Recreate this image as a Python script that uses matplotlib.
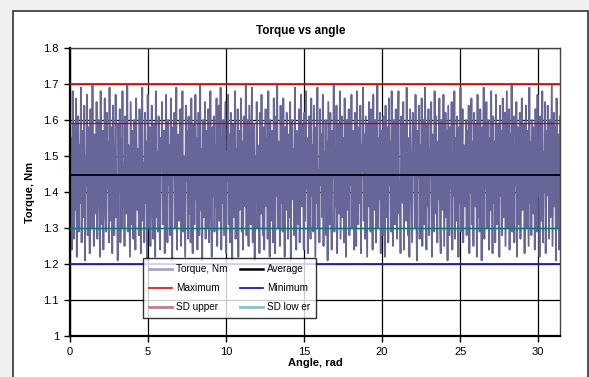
import numpy as np
import matplotlib.pyplot as plt
from matplotlib.patches import Rectangle
from matplotlib.lines import Line2D

plt.rcParams['font.family'] = ['Liberation Sans', 'DejaVu Sans']

# torque samples, Nm (approx.)
torque = [
    1.62, 1.31, 1.55, 1.24, 1.68, 1.40, 1.27, 1.59, 1.35, 1.66, 1.22, 1.48, 1.61, 1.29, 1.53, 1.37, 1.69, 1.26, 1.44, 1.57,
    1.33, 1.64, 1.21, 1.50, 1.42, 1.67, 1.28, 1.58, 1.36, 1.23, 1.63, 1.45, 1.30, 1.70, 1.39, 1.25, 1.56, 1.47, 1.34, 1.65,
    1.27, 1.52, 1.60, 1.38, 1.22, 1.68, 1.43, 1.31, 1.57, 1.24, 1.49, 1.66, 1.35, 1.29, 1.62, 1.41, 1.54, 1.26, 1.69, 1.32,
    1.46, 1.58, 1.23, 1.64, 1.37, 1.28, 1.51, 1.67, 1.33, 1.44, 1.21, 1.59, 1.40, 1.63, 1.26, 1.55, 1.30, 1.68, 1.36, 1.48,
    1.25, 1.61, 1.42, 1.34, 1.70, 1.29, 1.53, 1.38, 1.22, 1.65, 1.47, 1.31, 1.57, 1.27, 1.60, 1.39, 1.24, 1.66, 1.45, 1.35,
    1.52, 1.28, 1.63, 1.41, 1.23, 1.56, 1.69, 1.32, 1.48, 1.26, 1.62, 1.37, 1.54, 1.21, 1.67, 1.43, 1.30, 1.58, 1.25, 1.50,
    1.64, 1.36, 1.27, 1.59, 1.44, 1.22, 1.68, 1.33, 1.51, 1.29, 1.61, 1.40, 1.24, 1.55, 1.46, 1.65, 1.31, 1.38, 1.57, 1.23,
    1.49, 1.67, 1.34, 1.26, 1.60, 1.42, 1.53, 1.28, 1.66, 1.35, 1.21, 1.58, 1.45, 1.62, 1.30, 1.39, 1.69, 1.24, 1.47, 1.56,
    1.32, 1.54, 1.63, 1.25, 1.41, 1.68, 1.29, 1.50, 1.37, 1.22, 1.64, 1.43, 1.57, 1.27, 1.61, 1.34, 1.48, 1.26, 1.66, 1.40,
    1.23, 1.59, 1.46, 1.31, 1.67, 1.38, 1.55, 1.24, 1.62, 1.44, 1.28, 1.70, 1.35, 1.52, 1.21, 1.60, 1.42, 1.33, 1.65, 1.27,
    1.57, 1.30, 1.49, 1.63, 1.26, 1.45, 1.68, 1.34, 1.22, 1.58, 1.39, 1.61, 1.29, 1.53, 1.36, 1.66, 1.25, 1.47, 1.64, 1.32,
    1.41, 1.69, 1.24, 1.55, 1.37, 1.60, 1.28, 1.48, 1.65, 1.23, 1.51, 1.43, 1.67, 1.31, 1.56, 1.26, 1.62, 1.38, 1.21, 1.59,
    1.45, 1.33, 1.68, 1.27, 1.52, 1.40, 1.63, 1.22, 1.57, 1.35, 1.46, 1.66, 1.29, 1.54, 1.24, 1.61, 1.42, 1.36, 1.70, 1.28,
    1.60, 1.38, 1.25, 1.64, 1.47, 1.31, 1.56, 1.69, 1.26, 1.43, 1.59, 1.21, 1.50, 1.37, 1.65, 1.30, 1.53, 1.44, 1.23, 1.62,
    1.34, 1.67, 1.41, 1.28, 1.58, 1.24, 1.49, 1.63, 1.36, 1.55, 1.27, 1.68, 1.39, 1.22, 1.60, 1.45, 1.32, 1.57, 1.26, 1.66,
    1.48, 1.23, 1.61, 1.39, 1.70, 1.30, 1.54, 1.43, 1.25, 1.64, 1.37, 1.51, 1.29, 1.66, 1.42, 1.22, 1.58, 1.35, 1.62, 1.46,
    1.27, 1.56, 1.33, 1.65, 1.21, 1.47, 1.60, 1.38, 1.52, 1.28, 1.69, 1.40, 1.24, 1.57, 1.44, 1.31, 1.63, 1.26, 1.50, 1.67,
    1.36, 1.59, 1.45, 1.24, 1.62, 1.32, 1.68, 1.41, 1.55, 1.23, 1.48, 1.61, 1.34, 1.27, 1.66, 1.39, 1.53, 1.29, 1.64, 1.43,
    1.22, 1.58, 1.37, 1.69, 1.30, 1.46, 1.26, 1.63, 1.42, 1.56, 1.33, 1.67, 1.25, 1.51, 1.40, 1.60, 1.28, 1.54, 1.21, 1.65,
    1.47, 1.31, 1.62, 1.38, 1.24, 1.57, 1.44, 1.70, 1.29, 1.52, 1.36, 1.64, 1.23, 1.49, 1.59, 1.34, 1.68, 1.27, 1.45, 1.61,
    1.33, 1.55, 1.26, 1.66, 1.41, 1.22, 1.60, 1.48, 1.35, 1.63, 1.28, 1.54, 1.42, 1.67, 1.30, 1.39, 1.57, 1.24, 1.62, 1.50,
    1.25, 1.68, 1.43, 1.31, 1.58, 1.37, 1.64, 1.23, 1.53, 1.46, 1.69, 1.32, 1.56, 1.27, 1.61, 1.40, 1.22, 1.59, 1.36, 1.65,
    1.44, 1.29, 1.63, 1.52, 1.24, 1.67, 1.35, 1.48, 1.60, 1.26, 1.41, 1.70, 1.30, 1.55, 1.38, 1.62, 1.23, 1.57, 1.45, 1.28,
    1.61, 1.39, 1.22, 1.64, 1.47, 1.33, 1.58, 1.26, 1.66, 1.42, 1.54, 1.29, 1.68, 1.36, 1.25, 1.60, 1.49, 1.31, 1.63, 1.40,
    1.27, 1.56, 1.68, 1.34, 1.43, 1.23, 1.61, 1.51, 1.37, 1.65, 1.24, 1.46, 1.59, 1.32, 1.69, 1.41, 1.28, 1.55, 1.22, 1.63,
    1.50, 1.35, 1.26, 1.62, 1.45, 1.58, 1.30, 1.67, 1.39, 1.21, 1.57, 1.44, 1.64, 1.27, 1.53, 1.38, 1.66, 1.25, 1.48, 1.60,
    1.31, 1.69, 1.42, 1.24, 1.59, 1.36, 1.63, 1.28, 1.52, 1.47, 1.65, 1.22, 1.56, 1.40, 1.29, 1.68, 1.34, 1.61, 1.44, 1.26,
    1.54, 1.38, 1.66, 1.30, 1.23, 1.60, 1.49, 1.35, 1.67, 1.25, 1.43, 1.62, 1.33, 1.57, 1.21, 1.64, 1.46, 1.28, 1.58, 1.41,
    1.65, 1.24, 1.51, 1.39, 1.68, 1.27, 1.55, 1.32, 1.61, 1.44, 1.22, 1.58, 1.37, 1.69, 1.29, 1.48, 1.63, 1.26, 1.53, 1.36,
    1.42, 1.60, 1.28, 1.57, 1.34, 1.64, 1.23, 1.50, 1.40, 1.66, 1.31, 1.54, 1.25, 1.62, 1.45, 1.36, 1.59, 1.22, 1.67, 1.33,
    1.56, 1.29, 1.63, 1.46, 1.21, 1.58, 1.38, 1.69, 1.27, 1.52, 1.41, 1.65, 1.30, 1.48, 1.60, 1.24, 1.55, 1.35, 1.68, 1.43,
    1.23, 1.61, 1.37, 1.54, 1.26, 1.67, 1.44, 1.31, 1.59, 1.48, 1.22, 1.64, 1.39, 1.57, 1.28, 1.66, 1.33, 1.50, 1.62, 1.25,
    1.45, 1.68, 1.30, 1.40, 1.63, 1.24, 1.56, 1.36, 1.70, 1.29, 1.47, 1.61, 1.26, 1.53, 1.42, 1.65, 1.22, 1.58, 1.38, 1.31,
    1.62, 1.27, 1.52, 1.66, 1.35, 1.43, 1.59, 1.23, 1.48, 1.64, 1.30, 1.57, 1.41, 1.25, 1.69, 1.37, 1.54, 1.28, 1.60, 1.46,
    1.34, 1.58, 1.24, 1.63, 1.49, 1.29, 1.67, 1.39, 1.55, 1.22, 1.61, 1.44, 1.32, 1.68, 1.26, 1.51, 1.40, 1.65, 1.23, 1.57,
    1.39, 1.64, 1.47, 1.27, 1.60, 1.33, 1.53, 1.70, 1.25, 1.45, 1.62, 1.36, 1.58, 1.21, 1.66, 1.42, 1.30, 1.56, 1.24, 1.61,
]
angle_max = 31.4  # rad

# summary lines, Nm
maximum = 1.70
minimum = 1.20
average = 1.447
sd_upper = 1.593
sd_lower = 1.301

angle = np.linspace(0, angle_max, len(torque))

fig = plt.figure(figsize=(5.89, 3.77), dpi=100, facecolor='#f0f0f0')

# white chart area with border
bg = fig.add_axes([0, 0, 1, 1], zorder=-10)
bg.set_xlim(0, 589)
bg.set_ylim(377, 0)
bg.axis('off')
bg.add_patch(Rectangle((13, 11), 575, 380, facecolor='white',
                       edgecolor='#333333', linewidth=1.2))

ax = fig.add_axes([70 / 589, 41 / 377, 490 / 589, 288 / 377])
ax.set_facecolor('white')

ax.plot(angle, torque, color='#666699', linewidth=1.3, zorder=2)
ax.axhline(maximum, color='#ff0000', linewidth=1.2, zorder=3)
ax.axhline(sd_upper, color='#8b1a1a', linewidth=1.0, zorder=3)
ax.axhline(average, color='black', linewidth=1.3, zorder=3)
ax.axhline(sd_lower, color='#007b7b', linewidth=1.0, zorder=3)
ax.axhline(minimum, color='#2020c8', linewidth=1.3, zorder=3)

ax.set_xlim(0, angle_max)
ax.set_ylim(1.0, 1.8)
ax.set_xticks([0, 5, 10, 15, 20, 25, 30])
ax.set_yticks([1.0, 1.1, 1.2, 1.3, 1.4, 1.5, 1.6, 1.7, 1.8])
ax.set_yticklabels(['1', '1.1', '1.2', '1.3', '1.4', '1.5', '1.6', '1.7', '1.8'])
ax.grid(True, color='black', linewidth=0.9, zorder=1)
ax.set_axisbelow(True)
ax.tick_params(labelsize=8, length=4, width=1, direction='out', pad=4)

for side in ['top', 'right']:
    ax.spines[side].set_linewidth(1.0)
    ax.spines[side].set_color('#444444')
for side in ['left', 'bottom']:
    ax.spines[side].set_linewidth(1.6)

ax.set_xlabel('Angle, rad', fontsize=8, fontweight='bold', labelpad=1)
ax.set_ylabel('Torque, Nm', fontsize=8, fontweight='bold', labelpad=6)
fig.text(301 / 589, 1 - 31 / 377, 'Torque vs angle', fontsize=8.5,
         fontweight='bold', ha='center', va='center')

handles = [
    Line2D([], [], color='#a4a4cc', linewidth=2),
    Line2D([], [], color='#ff0000', linewidth=1.2),
    Line2D([], [], color='#c08080', linewidth=2),
    Line2D([], [], color='black', linewidth=1.8),
    Line2D([], [], color='#0000ff', linewidth=1.2),
    Line2D([], [], color='#80c4c4', linewidth=2),
]
labels = ['Torque, Nm', 'Maximum', 'SD upper', 'Average', 'Minimum', 'SD low er']
leg = ax.legend(handles, labels, ncol=2, fontsize=7.2, loc='lower left',
                bbox_to_anchor=(0.149, 0.0625, 0.353, 0.205), mode='expand',
                frameon=True, fancybox=False, handlelength=2.3,
                borderaxespad=0, labelspacing=0.9, columnspacing=1.0,
                handletextpad=0.4, borderpad=0.6)
leg.get_frame().set_edgecolor('black')
leg.get_frame().set_linewidth(1.0)
leg.set_zorder(5)

fig.savefig('out.png', dpi=100, facecolor=fig.get_facecolor())
